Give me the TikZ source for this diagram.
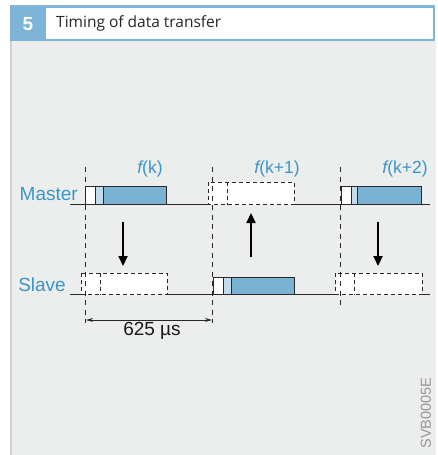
\documentclass[tikz,border=0pt]{standalone}
\usepackage{fontspec}
\setmainfont{Liberation Sans}
\newfontfamily\titlefont{Open Sans}
\usetikzlibrary{arrows.meta}
\definecolor{hblue}{RGB}{125,180,215}
\definecolor{boxblue}{RGB}{122,178,212}
\definecolor{lightblue}{RGB}{195,220,236}
\definecolor{labelblue}{RGB}{58,150,200}
\definecolor{panel}{RGB}{236,237,237}
\definecolor{panelborder}{RGB}{208,210,210}
\definecolor{ink}{RGB}{40,40,40}
\definecolor{codegray}{RGB}{150,150,150}
\tikzset{
  baseline/.style={draw=ink, line width=0.9pt},
  solidbox/.style={draw=ink, line width=0.9pt},
  dashbox/.style={draw=ink, line width=0.9pt, dash pattern=on 4pt off 3pt, fill=white},
  timeline/.style={draw=ink, line width=0.9pt, dash pattern=on 5pt off 4.5pt},
  bigarrow/.style={draw=black, line width=2.2pt, -{Triangle[width=9pt,length=10pt]}},
  dimarrow/.style={draw=ink, line width=0.9pt, {Stealth[length=7pt,width=4pt]}-{Stealth[length=7pt,width=4pt]}},
  sidelabel/.style={text=labelblue, font=\fontsize{19}{22}\selectfont, inner sep=0pt},
  flabel/.style={text=labelblue, font=\fontsize{17.5}{20}\selectfont, inner sep=0pt},
}
\begin{document}
\begin{tikzpicture}[x=1pt,y=-1pt]
\useasboundingbox (0,0) rectangle (437,455);
\fill[white] (0,0) rectangle (437,455);
% header
\fill[hblue] (10,5) rectangle (435,41);
\fill[white] (46,8) rectangle (433,39);
\node[text=white, font=\fontsize{19}{21}\selectfont\bfseries, inner sep=0pt] (num) at (28,24) {5};
\node[anchor=west, font=\titlefont\fontsize{15.5}{18}\selectfont, text=black!85, inner sep=0pt] (title) at (56,23.5) {Timing of data transfer};
% panel
\fill[panel] (10,41) rectangle (436,455);
\fill[panelborder] (10,41) rectangle (12,455);
% labels
\node[sidelabel, anchor=base east] (master) at (78,200) {Master};
\node[sidelabel, anchor=base east] (slave) at (66,291.5) {Slave};
\node[flabel] (fk) at (150,169) {{\itshape f}(k)};
\node[flabel] (fk1) at (277,169) {{\itshape f}(k+1)};
\node[flabel] (fk2) at (405,169) {{\itshape f}(k+2)};
% baselines
\draw[baseline] (70,204.5) -- (430,204.5);
\draw[baseline] (70,294.5) -- (430,294.5);
% master boxes
\fill[white] (85,186) rectangle (95,204.5);
\fill[lightblue] (95,186) rectangle (103,204.5);
\fill[boxblue] (103,186) rectangle (166,204.5);
\draw[solidbox] (85,186) rectangle (166,204.5) (95,186) -- (95,204.5) (103,186) -- (103,204.5);
\draw[dashbox] (208,182) rectangle (294,204.5);
\draw[ink, line width=0.9pt, dash pattern=on 4pt off 3pt] (227,182) -- (227,204.5);
\fill[white] (341,186) rectangle (351,204.5);
\fill[lightblue] (351,186) rectangle (357,204.5);
\fill[boxblue] (357,186) rectangle (421,204.5);
\draw[solidbox] (341,186) rectangle (421,204.5) (351,186) -- (351,204.5) (357,186) -- (357,204.5);
% slave boxes
\draw[dashbox] (81,273) rectangle (167,294.5);
\draw[ink, line width=0.9pt, dash pattern=on 4pt off 3pt] (100,273) -- (100,294.5);
\fill[white] (213,277) rectangle (223,294.5);
\fill[lightblue] (223,277) rectangle (231,294.5);
\fill[boxblue] (231,277) rectangle (294,294.5);
\draw[solidbox] (213,277) rectangle (294,294.5) (223,277) -- (223,294.5) (231,277) -- (231,294.5);
\draw[dashbox] (335,273) rectangle (422,294.5);
\draw[ink, line width=0.9pt, dash pattern=on 4pt off 3pt] (354,273) -- (354,294.5);
% time lines
\coordinate (t0a) at (85.5,167); \coordinate (t0b) at (85.5,323);
\coordinate (t1a) at (212.5,167); \coordinate (t1b) at (212.5,323);
\coordinate (t2a) at (340,167); \coordinate (t2b) at (340,309);
\draw[timeline] (t0a) -- (t0b);
\draw[timeline] (t1a) -- (t1b);
\draw[timeline] (t2a) -- (t2b);
% transfer arrows
\coordinate (a1s) at (123,222); \coordinate (a1e) at (123,266);
\coordinate (a2s) at (251,257); \coordinate (a2e) at (251,213);
\coordinate (a3s) at (378,222); \coordinate (a3e) at (378,266);
\draw[bigarrow] (a1s) -- (a1e);
\draw[bigarrow] (a2s) -- (a2e);
\draw[bigarrow] (a3s) -- (a3e);
% dimension
\coordinate (d0) at (86,320); \coordinate (d1) at (212,320);
\draw[dimarrow] (d0) -- (d1);
\node[font=\fontsize{19}{22}\selectfont, text=black!90, inner sep=0pt] (dim) at (152,331) {625 µs};
% code
\node[rotate=90, text=codegray, font=\fontsize{14.5}{16}\selectfont, inner sep=0pt] (code) at (426,413) {SVB0005E};
\end{tikzpicture}
\end{document}
